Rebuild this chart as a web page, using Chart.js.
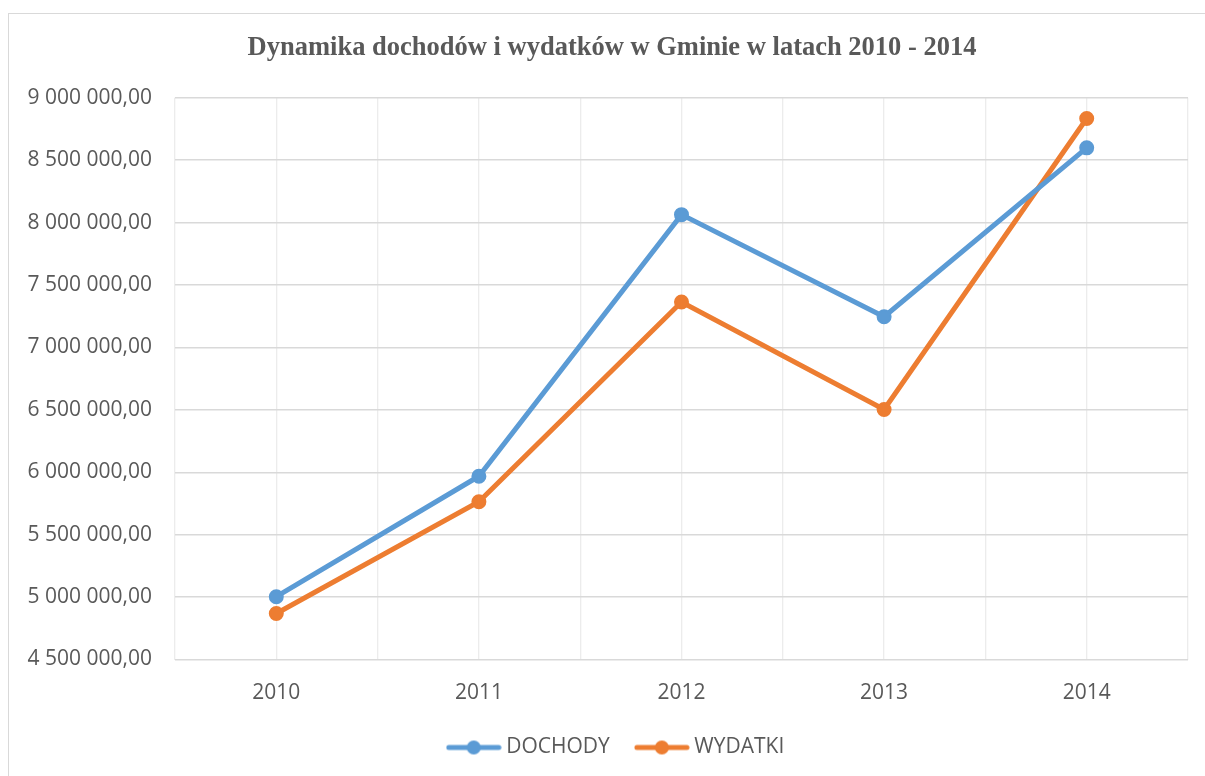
<!DOCTYPE html>
<html>
<head>
<meta charset="utf-8">
<script src="https://cdn.jsdelivr.net/npm/chart.js@4/dist/chart.umd.min.js"></script>
<style>
  html, body { margin: 0; padding: 0; background: #fff; overflow: hidden; }
  #ramka { position: absolute; left: 8px; top: 13px; width: 1400px; height: 1000px; border: 1px solid #d9d9d9; }
  #wrap { position: absolute; left: 0; top: 0; width: 1205px; height: 776px; }
</style>
</head>
<body>
<div id="ramka"></div>
<div id="wrap"><canvas id="myChart" width="1205" height="776"></canvas></div>
<script>
// Dane wykresu
const lata = ['2010', '2011', '2012', '2013', '2014'];
const dochody = [5003000, 5968000, 8064000, 7246000, 8599000];
const wydatki = [4869000, 5764000, 7364000, 6503000, 8834000];
const yMin = 4500000;
const yMax = 9000000;
const yKrok = 500000;

const kolorDochody = '#5B9BD5';
const kolorWydatki = '#ED7D31';
const kolorTekstu = '#595959';
const fontOsi = { family: '"Open Sans", sans-serif', size: 21 };

// format "9 000 000,00"
function formatPL(v) {
  const [cal, dec] = v.toFixed(2).split('.');
  return cal.replace(/\B(?=(\d{3})+(?!\d))/g, ' ') + ',' + dec;
}

// ikonka legendy: linia z kropką
function ikonaLegendy(kolor) {
  const c = document.createElement('canvas');
  c.width = 56;
  c.height = 16;
  const g = c.getContext('2d');
  g.strokeStyle = kolor;
  g.lineWidth = 5;
  g.lineCap = 'round';
  g.beginPath();
  g.moveTo(3, 8);
  g.lineTo(53, 8);
  g.stroke();
  g.fillStyle = kolor;
  g.beginPath();
  g.arc(28, 8, 7, 0, Math.PI * 2);
  g.fill();
  return c;
}

// przesunięcie tytułu i legendy w prawo (jak w oryginale)
const przesun = {
  id: 'przesun',
  afterLayout(chart) {
    if (chart.legend) {
      chart.legend.left += 14;
      chart.legend.right += 14;
    }
    if (chart.titleBlock) {
      chart.titleBlock.left += 8;
      chart.titleBlock.right += 8;
    }
  }
};

const ctx = document.getElementById('myChart').getContext('2d');

new Chart(ctx, {
  type: 'line',
  data: {
    datasets: [
      {
        label: 'DOCHODY',
        data: dochody.map((v, i) => ({ x: i, y: v })),
        borderColor: kolorDochody,
        backgroundColor: kolorDochody,
        borderWidth: 5,
        pointRadius: 6.5,
        pointBorderWidth: 2,
        pointBackgroundColor: kolorDochody,
        pointBorderColor: kolorDochody,
        fill: false,
        tension: 0
      },
      {
        label: 'WYDATKI',
        data: wydatki.map((v, i) => ({ x: i, y: v })),
        borderColor: kolorWydatki,
        backgroundColor: kolorWydatki,
        borderWidth: 5,
        pointRadius: 6.5,
        pointBorderWidth: 2,
        pointBackgroundColor: kolorWydatki,
        pointBorderColor: kolorWydatki,
        fill: false,
        tension: 0
      }
    ]
  },
  plugins: [przesun],
  options: {
    responsive: false,
    animation: false,
    layout: {
      padding: { left: 20, right: 17, top: 0, bottom: 8 }
    },
    plugins: {
      tooltip: { enabled: false },
      title: {
        display: true,
        text: 'Dynamika dochodów i wydatków w Gminie w latach 2010 - 2014',
        color: kolorTekstu,
        font: { family: '"Liberation Serif", "Times New Roman", serif', size: 26.5, weight: 'bold' },
        padding: { top: 32, bottom: 34 }
      },
      legend: {
        position: 'bottom',
        labels: {
          color: kolorTekstu,
          font: fontOsi,
          usePointStyle: true,
          pointStyleWidth: 44,
          padding: 30,
          generateLabels: (chart) => chart.data.datasets.map((ds, i) => ({
            text: ds.label,
            fillStyle: ds.borderColor,
            strokeStyle: ds.borderColor,
            fontColor: kolorTekstu,
            lineWidth: 0,
            pointStyle: ikonaLegendy(ds.borderColor),
            hidden: false,
            datasetIndex: i
          }))
        }
      }
    },
    scales: {
      x: {
        type: 'linear',
        min: -0.5,
        max: lata.length - 0.5,
        border: { display: false },
        grid: { color: '#ECECEC', lineWidth: 1.3, drawTicks: false },
        ticks: {
          stepSize: 0.5,
          autoSkip: false,
          maxRotation: 0,
          color: kolorTekstu,
          font: fontOsi,
          padding: 21,
          callback: (v) => Number.isInteger(v) ? lata[v] : ''
        },
        afterFit: (scale) => {
          scale.height = 47.5;
          scale.paddingLeft = 0;
          scale.paddingRight = 0;
        }
      },
      y: {
        min: yMin,
        max: yMax,
        border: { display: false },
        grid: { color: '#D9D9D9', lineWidth: 1.5, drawTicks: false },
        ticks: {
          stepSize: yKrok,
          color: kolorTekstu,
          font: fontOsi,
          padding: 23,
          callback: (v) => formatPL(v)
        },
        afterFit: (scale) => { scale.width = 155; }
      }
    }
  }
});
</script>
</body>
</html>
